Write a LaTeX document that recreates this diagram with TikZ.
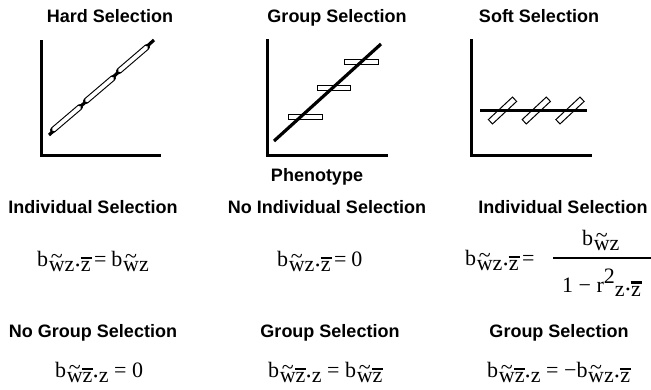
\documentclass[tikz,border=0pt]{standalone}
\usepackage{fontspec}
\setmainfont{Liberation Serif}
\newfontfamily\hfont{Liberation Sans}
\newcommand\tw{\rlap{\raisebox{0.36em}{\hbox to 0.72em{\hss\textasciitilde\hss}}}w}
\newcommand\bz{\rlap{\kern-0.02em\raisebox{0.58em}{\rule{0.5em}{0.11em}}}z}
\newcommand\dt{\kern0.05em\raisebox{0.12em}{\scalebox{0.55}{•}}\kern0.05em}
\newcommand\bs[1]{b\kern0.03em\raisebox{-0.26em}{#1}}
\newcommand\eqs{\kern0.16em=\kern0.22em}
\tikzset{
  hdr/.style={font=\hfont\bfseries\fontsize{18}{18}\selectfont, anchor=base, inner sep=0pt},
  eqn/.style={font=\fontsize{22}{22}\selectfont, anchor=base west, inner sep=0pt},
  axis/.style={line width=3pt, line join=miter},
  fitline/.style={line width=3.2pt},
  outerbar/.style={line width=6pt, line cap=round},
  innerbar/.style={white, line width=3.8pt, line cap=round, shorten <=0.9pt, shorten >=0.9pt},
  grpbox/.style={draw, fill=white, line width=1pt},
  softbar/.style={draw, fill=white, line width=1pt, minimum width=33pt, minimum height=6pt, inner sep=0pt, rotate=43}
}
\begin{document}
\begin{tikzpicture}[x=1pt,y=-1pt]
\useasboundingbox (0,0) rectangle (651,389);
% headers
\node[hdr] (h1) at (110,22) {Hard Selection};
\node[hdr] (h2) at (337,22) {Group Selection};
\node[hdr] (h3) at (539,22) {Soft Selection};
\node[hdr] (ph) at (317,181) {Phenotype};
\node[hdr] (r2a) at (93,213) {Individual Selection};
\node[hdr] (r2b) at (327,213) {No Individual Selection};
\node[hdr] (r2c) at (563,213) {Individual Selection};
\node[hdr] (r3a) at (93,337) {No Group Selection};
\node[hdr] (r3b) at (330,337) {Group Selection};
\node[hdr] (r3c) at (559,337) {Group Selection};
% hard selection plot
\draw[axis] (41,40) -- (41,155) -- (161,155);
\draw[fitline] (49,135) -- (154,40);
\foreach \xa/\ya/\xb/\yb in {53/130/80/107, 86/101/113/78, 119/71/147/47}{
  \draw[outerbar] (\xa,\ya) -- (\xb,\yb);
  \draw[innerbar] (\xa,\ya) -- (\xb,\yb);
}
% group selection plot
\draw[axis] (267,39) -- (267,155) -- (388,155);
\draw[grpbox] (288,114) rectangle (322,119);
\draw[grpbox] (317,85) rectangle (350,90);
\draw[grpbox] (344,59) rectangle (378,64);
\draw[fitline] (274,141) -- (381,44);
% soft selection plot
\draw[axis] (471,39) -- (471,155) -- (592,155);
\node[softbar] (s1) at (502.5,110.5) {};
\node[softbar] (s2) at (536.3,110.5) {};
\node[softbar] (s3) at (570,110.5) {};
\draw[line width=3pt] (480,110) -- (587,110);
% equations row 1
\node[eqn] (e1) at (37,266) {\bs{\tw z\dt\bz}\eqs\bs{\tw z}};
\node[eqn] (e2) at (277,266) {\bs{\tw z\dt\bz}\eqs 0};
\node[eqn] (e3) at (465,265) {\bs{\tw z\dt\bz}\eqs};
\coordinate (fl) at (553,258);
\coordinate (fr) at (651,258);
\draw[line width=1.5pt] (fl) -- (fr);
\node[eqn] (num) at (582,245) {\bs{\tw z}};
\node[eqn] (den) at (562,292) {1 − r\raisebox{0.38em}{2}\raisebox{-0.2em}{z\dt\bz}};
% equations row 3
\node[eqn] (g1) at (55,377) {\bs{\tw\bz\dt z} = 0};
\node[eqn] (g2) at (268,377) {\bs{\tw\bz\dt z} = \bs{\tw\bz}};
\node[eqn] (g3) at (487,377) {\bs{\tw\bz\dt z} = −\bs{\tw z\dt\bz}};
\end{tikzpicture}
\end{document}
